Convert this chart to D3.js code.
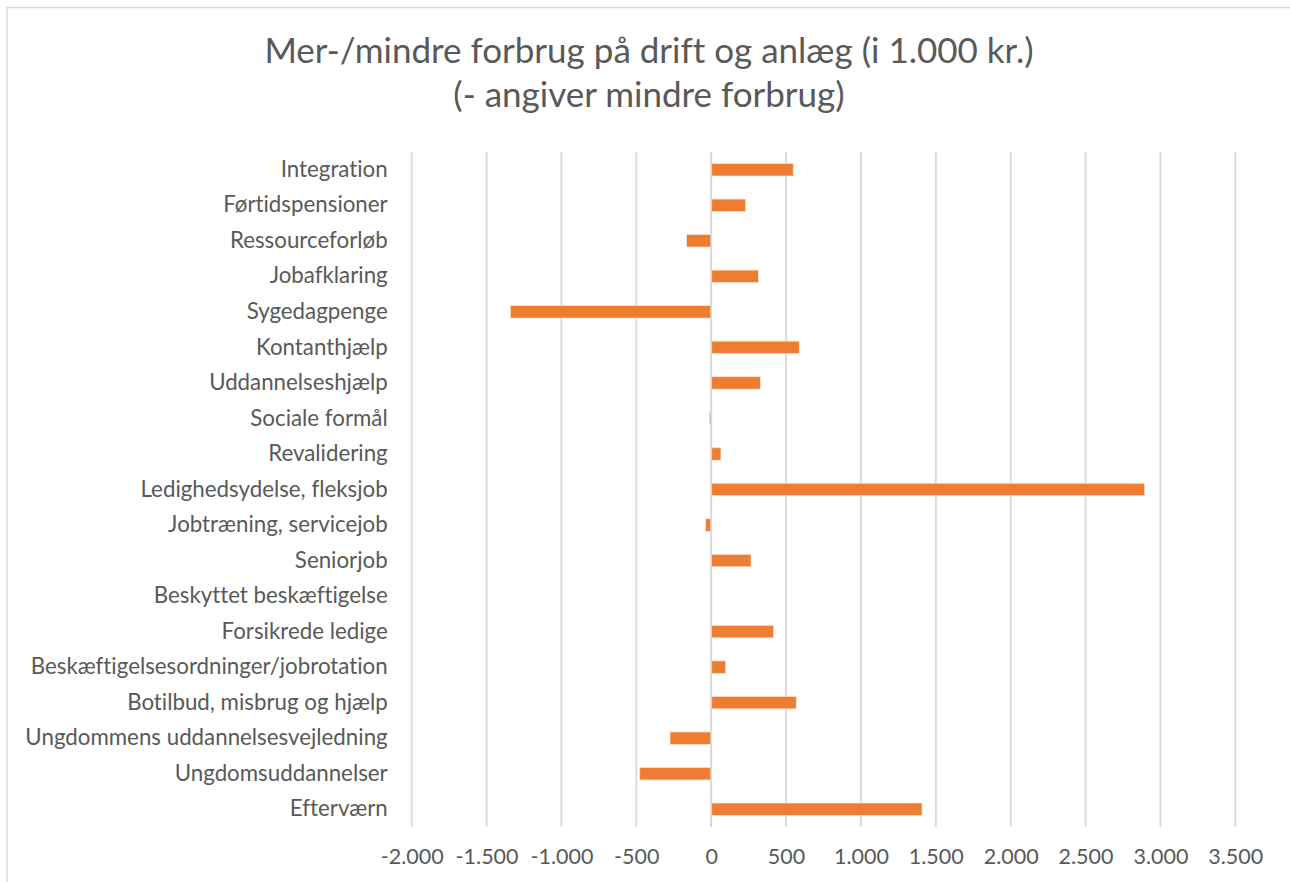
<!DOCTYPE html>
<html>
<head>
<meta charset="utf-8">
<script src="https://cdn.jsdelivr.net/npm/d3@7"></script>
<style>
  body { margin: 0; background: #fff; }
  svg text { font-family: Lato, "Open Sans", sans-serif; fill: #595959; font-variant-ligatures: none; }
</style>
</head>
<body>
<div id="chart"></div>
<script>
// Mer-/mindre forbrug, i 1.000 kr. (top to bottom as shown)
const categories = [
  'Integration',
  'Førtidspensioner',
  'Ressourceforløb',
  'Jobafklaring',
  'Sygedagpenge',
  'Kontanthjælp',
  'Uddannelseshjælp',
  'Sociale formål',
  'Revalidering',
  'Ledighedsydelse, fleksjob',
  'Jobtræning, servicejob',
  'Seniorjob',
  'Beskyttet beskæftigelse',
  'Forsikrede ledige',
  'Beskæftigelsesordninger/jobrotation',
  'Botilbud, misbrug og hjælp',
  'Ungdommens uddannelsesvejledning',
  'Ungdomsuddannelser',
  'Efterværn'
];
const values = [548, 230, -164, 315, -1341, 588, 328, -12, 65, 2895, -37, 266, 0, 417, 97, 568, -275, -477, 1408];
const xTicks = [-2000, -1500, -1000, -500, 0, 500, 1000, 1500, 2000, 2500, 3000, 3500];
const titleLines = ['Mer-/mindre forbrug på drift og anlæg (i 1.000 kr.)', '(- angiver mindre forbrug)'];

const W = 1290, H = 882;
const plot = {left: 411.7, right: 1235.3, top: 152, bottom: 827};

const svg = d3.select('#chart')
  .append('svg')
  .attr('width', W)
  .attr('height', H);

// chart frame
svg.append('rect')
  .attr('x', 7)
  .attr('y', 7.5)
  .attr('width', 1284)
  .attr('height', 900)
  .attr('fill', '#fff')
  .attr('stroke', '#d9d9d9')
  .attr('stroke-width', 1.5);

const x = d3.scaleLinear()
  .domain([-2000, 3500])
  .range([plot.left, plot.right]);

const y = d3.scaleBand()
  .domain(categories)
  .range([plot.top, plot.bottom])
  .paddingInner(0.65)
  .paddingOuter(0.325);

// Gridlines
svg.append('g')
  .selectAll('line')
  .data(xTicks)
  .enter()
  .append('line')
  .attr('x1', d => x(d))
  .attr('x2', d => x(d))
  .attr('y1', plot.top)
  .attr('y2', plot.bottom)
  .attr('stroke', '#d9d9d9')
  .attr('stroke-width', 1.8);

// Bars
svg.append('g')
  .selectAll('rect')
  .data(categories)
  .enter()
  .append('rect')
  .attr('x', (d, i) => x(Math.min(0, values[i])))
  .attr('y', d => y(d))
  .attr('width', (d, i) => Math.abs(x(values[i]) - x(0)))
  .attr('height', y.bandwidth())
  .attr('fill', '#ed7d31')
  .attr('stroke', '#fbe3d3')
  .attr('stroke-width', (d, i) => values[i] === 0 ? 0 : 0.7);

// Zero axis line on top
svg.append('line')
  .attr('x1', x(0))
  .attr('x2', x(0))
  .attr('y1', plot.top)
  .attr('y2', plot.bottom)
  .attr('stroke', '#d9d9d9')
  .attr('stroke-width', 1.8);

// Category labels
const yAxis = svg.append('g')
  .attr('transform', `translate(${x(-2000) - 24},0)`)
  .call(d3.axisLeft(y).tickSize(0).tickPadding(0));
yAxis.select('.domain').remove();
yAxis.selectAll('text')
  .style('font-size', '22.3px')
  .style('fill', '#595959')
  .style('font-family', 'Lato, "Open Sans", sans-serif');

// Value axis labels
const xAxis = svg.append('g')
  .attr('transform', `translate(0,${plot.bottom})`)
  .call(d3.axisBottom(x)
    .tickValues(xTicks)
    .tickSize(0)
    .tickPadding(22)
    .tickFormat(d => d3.format(',')(d).replace(/,/g, '.').replace('−', '-')));
xAxis.select('.domain').remove();
xAxis.selectAll('text')
  .style('font-size', '21.5px')
  .style('fill', '#595959')
  .style('font-family', 'Lato, "Open Sans", sans-serif');

// Title
svg.append('g')
  .selectAll('text')
  .data(titleLines)
  .enter()
  .append('text')
  .attr('x', 649)
  .attr('y', (d, i) => 63 + i * 44)
  .attr('text-anchor', 'middle')
  .style('font-size', '35px')
  .style('font-weight', 400)
  .text(d => d);
</script>
</body>
</html>
